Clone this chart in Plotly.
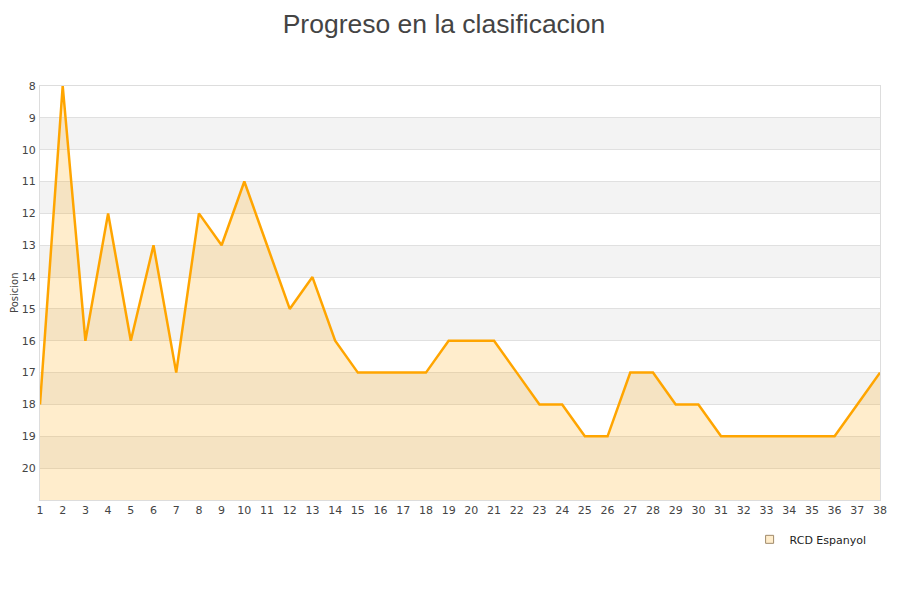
import plotly.graph_objects as go

jornadas = list(range(1, 39))
posicion = [18, 8, 16, 12, 16, 13, 17, 12, 13, 11,
            13, 15, 14, 16, 17, 17, 17, 17, 16, 16,
            16, 17, 18, 18, 19, 19, 17, 17, 18, 18,
            19, 19, 19, 19, 19, 19, 18, 17]
y_ticks = list(range(8, 21))
team = "RCD Espanyol"

fig = go.Figure()

# alternating bands
shapes = []
for k in range(9, 21, 2):
    shapes.append(dict(type="rect", xref="paper", yref="y", x0=0, x1=1, y0=k, y1=k + 1,
                       fillcolor="#f3f3f3", line=dict(width=0), layer="below"))

fig.add_trace(go.Scatter(x=jornadas, y=[21] * len(jornadas), mode="lines",
                         line=dict(width=0), showlegend=False, hoverinfo="skip"))
fig.add_trace(go.Scatter(x=jornadas, y=posicion, mode="lines", fill="tonexty",
                         fillcolor="rgba(255,165,0,0.2)",
                         line=dict(color="#FFA500", width=2.5),
                         showlegend=False, name=team))
fig.add_trace(go.Scatter(x=[None], y=[None], mode="markers", name=team,
                         marker=dict(symbol="square", size=8, color="#ffedcc",
                                     line=dict(color="#a08a6a", width=1))))

fig.update_layout(
    width=900, height=600,
    paper_bgcolor="white", plot_bgcolor="white",
    margin=dict(l=32, r=28, t=78, b=108, autoexpand=False),
    title=dict(text="Progreso en la clasificacion", x=0.4844, xanchor="center", y=0.99, yanchor="top",
               pad=dict(t=0),
               font=dict(family="Liberation Sans, Arial", size=26.5, color="#444")),
    font=dict(family="DejaVu Sans", size=11, color="#444"),
    shapes=shapes,
    showlegend=True,
    legend=dict(x=0.99, xanchor="right", y=-0.06, yanchor="top", font=dict(size=11, color="#222"),
                bgcolor="rgba(0,0,0,0)"),
    annotations=[dict(text="Posicion", xref="paper", yref="paper", x=0, y=0.5, xshift=-26,
                      xanchor="center", yanchor="middle", textangle=-90, showarrow=False,
                      font=dict(size=10, color="#444"))],
    xaxis=dict(range=[1, 38], tickmode="array", tickvals=jornadas, ticktext=[str(j) for j in jornadas],
               showgrid=False, zeroline=False, showline=True, linecolor="#ddd", mirror=True,
               ticks="", tickfont=dict(size=11, color="#444"), automargin=False),
    yaxis=dict(range=[21, 8], tickmode="array", tickvals=y_ticks, ticktext=[str(t) for t in y_ticks],
               showgrid=True, gridcolor="#e0e0e0", zeroline=False, showline=True, linecolor="#ddd",
               mirror=True, ticks="", tickfont=dict(size=11, color="#444"), automargin=False,
               ticklabelstandoff=1),
)

fig.write_html("out.html")
